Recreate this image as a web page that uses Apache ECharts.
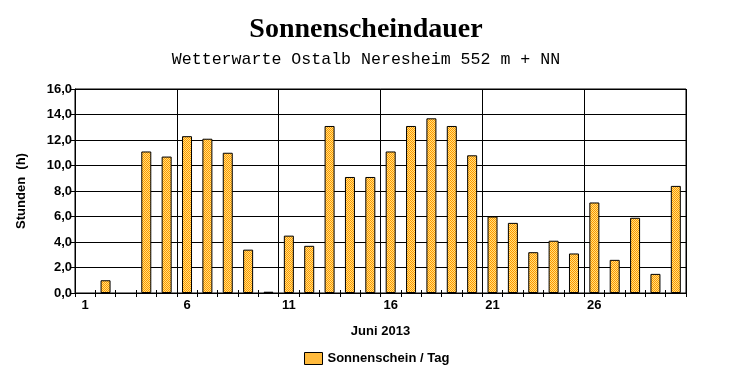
<!DOCTYPE html>
<html>
<head>
<meta charset="utf-8">
<script src="https://cdn.jsdelivr.net/npm/echarts@6/dist/echarts.min.js"></script>
<style>
html,body{margin:0;padding:0;background:#fff;}
#c{width:732px;height:380px;}
</style>
</head>
<body>
<div id="c"></div>
<script>
const days = ['1','2','3','4','5','6','7','8','9','10','11','12','13','14','15','16','17','18','19','20','21','22','23','24','25','26','27','28','29','30'];
const sunshine = [null,1.0,null,11.1,10.7,12.3,12.1,11.0,3.4,0.1,4.5,3.7,13.1,9.1,9.1,11.1,13.1,13.7,13.1,10.8,6.0,5.5,3.2,4.1,3.1,7.1,2.6,5.9,1.5,8.4];
const seriesName = 'Sonnenschein / Tag';
const titleText = 'Sonnenscheindauer';
const subtitleText = 'Wetterwarte Ostalb Neresheim 552 m + NN';
const yName = 'Stunden  (h)';
const xName = 'Juni 2013';

const pc = document.createElement('canvas');
pc.width = 2; pc.height = 2;
const pctx = pc.getContext('2d');
pctx.fillStyle = '#FFE27A'; pctx.fillRect(0,0,2,2);
pctx.fillStyle = '#FF9400'; pctx.fillRect(0,0,1,1); pctx.fillRect(1,1,1,1);
const pattern = {image: pc, repeat: 'repeat'};

const chart = echarts.init(document.getElementById('c'), null, {renderer: 'canvas'});
const lbl = {fontFamily: 'Liberation Sans', fontWeight: 'bold', fontSize: 13, color: '#000'};
chart.setOption({
  animation: false,
  backgroundColor: '#fff',
  title: [
    {text: titleText, left: 'center', top: 11, textStyle: {fontFamily: 'Liberation Serif', fontWeight: 'bold', fontSize: 28, color: '#000'}},
    {text: subtitleText, left: 'center', top: 46, textStyle: {fontFamily: 'Liberation Mono', fontWeight: 'normal', fontSize: 16.6, color: '#000'}}
  ],
  legend: {
    bottom: 10, left: 299,
    itemWidth: 18, itemHeight: 12, itemGap: 6,
    icon: 'rect',
    textStyle: Object.assign({}, lbl),
    data: [{name: seriesName, itemStyle: {color: '#FFBA3C', borderColor: '#000', borderWidth: 1}}]
  },
  grid: {left: 75, right: 46, top: 89, bottom: 87, show: true, borderColor: '#000', borderWidth: 1, backgroundColor: 'transparent'},
  xAxis: [
    {
      type: 'category', data: days, boundaryGap: true,
      name: xName, nameLocation: 'middle', nameGap: 32,
      nameTextStyle: Object.assign({}, lbl),
      axisLine: {show: true, lineStyle: {color: '#000', width: 1}},
      axisTick: {show: true, interval: 0, length: 4, lineStyle: {color: '#000'}},
      axisLabel: Object.assign({interval: 4, margin: 6}, lbl),
      splitLine: {show: true, interval: 4, lineStyle: {color: '#000', width: 1}}
    },
    {
      type: 'category', data: days, boundaryGap: true, position: 'bottom', offset: 0,
      axisLine: {show: false},
      axisTick: {show: true, inside: true, interval: 0, length: 3, lineStyle: {color: '#000'}},
      axisLabel: {show: false},
      splitLine: {show: false}
    }
  ],
  yAxis: {
    type: 'value', min: 0, max: 16, interval: 2,
    name: yName, nameLocation: 'middle', nameGap: 47,
    nameTextStyle: Object.assign({}, lbl),
    axisLine: {show: true, lineStyle: {color: '#000', width: 1}},
    axisTick: {show: true, length: 4, lineStyle: {color: '#000'}},
    axisLabel: Object.assign({margin: 3, formatter: v => v.toFixed(1).replace('.', ',')}, lbl),
    splitLine: {show: true, lineStyle: {color: '#000', width: 1}}
  },
  series: [{
    name: seriesName, type: 'bar', data: sunshine, barWidth: 10,
    xAxisIndex: 0,
    itemStyle: {color: pattern, borderColor: '#000', borderWidth: 1}
  }]
});
</script>
</body>
</html>
